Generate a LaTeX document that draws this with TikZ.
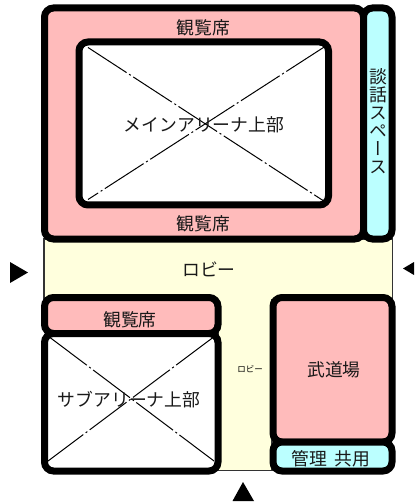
\documentclass[tikz,border=0pt]{standalone}
\usepackage{fontspec}
\setmainfont{Noto Sans CJK JP}
\newfontfamily\vertjp[RawFeature=+vert]{Noto Sans CJK JP}
\definecolor{seat}{HTML}{FFBBBB}
\definecolor{aqua}{HTML}{BBFFFF}
\definecolor{lobby}{HTML}{FFFFDD}
\tikzset{
  room/.style={draw=black,line width=7pt,rounded corners=9pt,inner sep=0pt,outer sep=0pt,anchor=north west},
  label/.style={inner sep=0pt,font=\fontsize{17.8}{18}\selectfont,text=black!90},
  cross/.style={line width=1pt,dash pattern=on 46pt off 3pt on 2pt off 3pt},
  mark tri/.style={fill=black,draw=none}
}
\newcommand{\Room}[6]{\node[room,fill=#6,minimum width=#4 pt,minimum height=#5 pt] (#1) at (#2,#3) {};}
\begin{document}
\begin{tikzpicture}[x=1pt,y=-1pt]
\useasboundingbox (0,0) rectangle (414,502);
% lobby
\draw[fill=lobby,draw=black!80,line width=1.1pt] (44,239) -- (392.5,239) -- (392.5,300) -- (272,300) -- (272,470.5) -- (218,470.5) -- (218,300) -- (44,300) -- cycle;
% rooms
\Room{mainseat}{44.5}{8}{319}{231}{seat}
\Room{talk}{363.5}{8}{28.5}{231}{aqua}
\Room{mainarena}{79}{42}{249.5}{163}{white}
\Room{subseat}{44.5}{297.5}{173.5}{36}{seat}
\Room{subarena}{44.5}{333.5}{173.5}{137.5}{white}
\Room{budo}{273}{297.5}{119}{144.5}{seat}
\Room{admin}{273}{442}{119}{29}{aqua}
% crosses
\coordinate (ma) at (88,47.5); \coordinate (mb) at (323,200.5);
\coordinate (mc) at (325,46.5); \coordinate (md) at (88,199.5);
\coordinate (sa) at (50,337.5); \coordinate (sb) at (214,461);
\coordinate (sc) at (213,337.5); \coordinate (sd) at (48,461);
\draw[cross] (ma) -- (mb);
\draw[cross] (mc) -- (md);
\draw[cross] (sa) -- (sb);
\draw[cross] (sc) -- (sd);
% labels
\node[label] (t1) at (203.5,28) {観覧席};
\node[label] (t2) at (203.5,223.5) {観覧席};
\node[label] (t3) at (204,124.5) {メインアリーナ上部};
\node[inner sep=0pt,align=center,font=\vertjp\fontsize{17.8}{18}\selectfont,text=black!90] (t4) at (378,121) {談\\話\\ス\\ペ\\ー\\ス};
\node[label] (t5) at (209,269) {ロビー};
\node[inner sep=0pt,font=\fontsize{8.5}{10}\selectfont] (t6) at (250,369) {ロビー};
\node[label] (t7) at (130,319.5) {観覧席};
\node[label] (t8) at (129,400) {サブアリーナ上部};
\node[label] (t9) at (334,370) {武道場};
\node[label] (t10) at (331,459) {管理\hspace{8pt}共用};
% entrance marks
\fill[mark tri] (10,262) -- (28,272.5) -- (10,283) -- cycle;
\fill[mark tri] (403,268.5) -- (414,262) -- (414,275) -- cycle;
\fill[mark tri] (243,482) -- (254,501) -- (232.5,501) -- cycle;
\end{tikzpicture}
\end{document}
